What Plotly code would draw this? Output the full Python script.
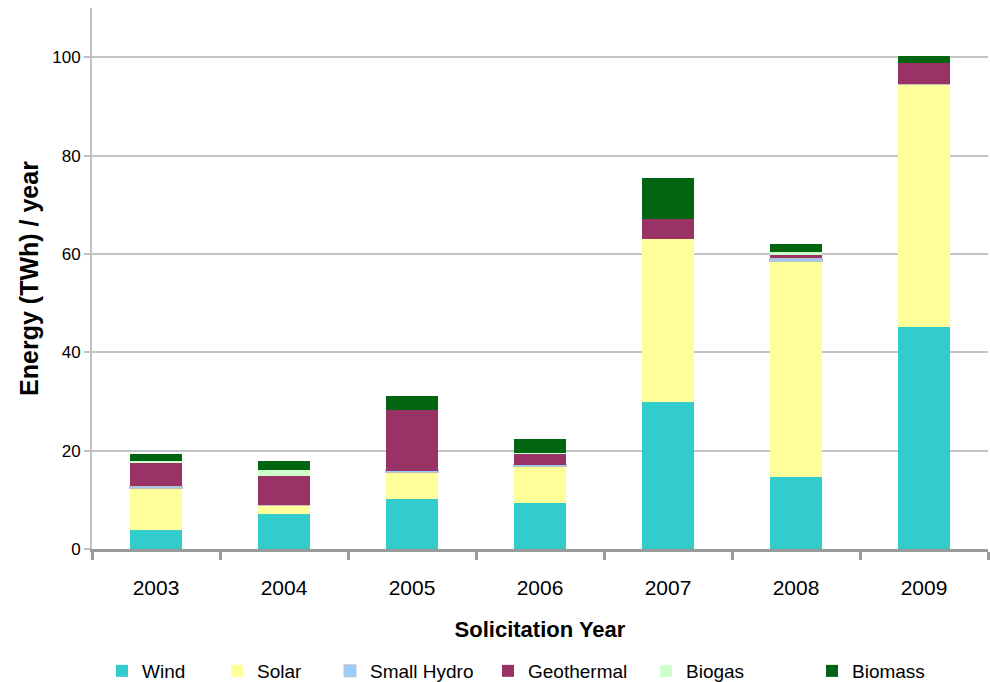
import plotly.graph_objects as go

years = ["2003", "2004", "2005", "2006", "2007", "2008", "2009"]
wind = [3.9, 7.1, 10.2, 9.4, 29.9, 14.7, 45.2]
solar = [8.5, 1.8, 5.3, 7.3, 33.2, 43.8, 49.3]
small_hydro = [0.4, 0.0, 0.4, 0.4, 0.0, 0.6, 0.0]
geothermal = [4.7, 5.9, 12.4, 2.3, 3.9, 0.6, 4.3]
biogas = [0.4, 1.2, 0.0, 0.15, 0.0, 0.6, 0.0]
biomass = [1.45, 1.8, 2.9, 2.9, 8.4, 1.8, 1.4]

series = [
    ("Wind", wind, "#33CCCC", None),
    ("Solar", solar, "#FFFF99", None),
    ("Small Hydro", small_hydro, "#99CCFF", "#C0C0C0"),
    ("Geothermal", geothermal, "#993366", None),
    ("Biogas", biogas, "#CCFFCC", None),
    ("Biomass", biomass, "#006411", None),
]
# legend text start positions (pixels from left of the page)
legend_text_x = [142, 257, 370, 528, 686, 852]

FONT = "Liberation Sans, Arial, sans-serif"
W, H = 990, 682

fig = go.Figure()
layout_legends = {}
for i, (name, vals, color, line) in enumerate(series):
    marker = dict(color=color)
    marker["line"] = dict(color=line, width=1) if line else dict(width=0)
    lg = "legend" if i == 0 else f"legend{i+1}"
    fig.add_trace(go.Bar(name=name, x=years, y=vals, marker=marker, width=0.41,
                         legend=lg))
    layout_legends[lg] = dict(
        orientation="h", xref="container", yref="container",
        x=(legend_text_x[i] - 40) / W, xanchor="left",
        y=1 - 671 / H, yanchor="middle",
        font=dict(size=19, family=FONT, color="#000000"),
        itemwidth=30, bgcolor="rgba(0,0,0,0)", borderwidth=0,
    )

fig.update_layout(
    barmode="stack",
    width=W, height=H,
    margin=dict(l=92, r=2, t=8, b=133),
    plot_bgcolor="white", paper_bgcolor="white",
    font=dict(family=FONT, size=17, color="#000000"),
    showlegend=True,
    **layout_legends,
)
fig.update_xaxes(
    automargin=False,
    showline=True, linecolor="#9A9A9A", linewidth=3,
    ticks="outside", tickson="boundaries", ticklen=8, tickwidth=3, tickcolor="#9A9A9A",
    tickfont=dict(size=21), ticklabelstandoff=18,
    title=dict(text="<b>Solicitation Year</b>", font=dict(size=22), standoff=24),
)
fig.update_yaxes(
    automargin=False,
    range=[0, 110], dtick=20, tick0=0,
    showline=True, linecolor="#C0C0C0", linewidth=2,
    showgrid=True, gridcolor="#C4C4C4", gridwidth=2,
    zeroline=False,
    ticks="outside", ticklen=6, tickwidth=2, tickcolor="#C0C0C0",
    tickfont=dict(size=17),
    title=dict(text="<b>Energy (TWh) / year</b>", font=dict(size=25), standoff=6),
)

fig.write_html("out.html")
